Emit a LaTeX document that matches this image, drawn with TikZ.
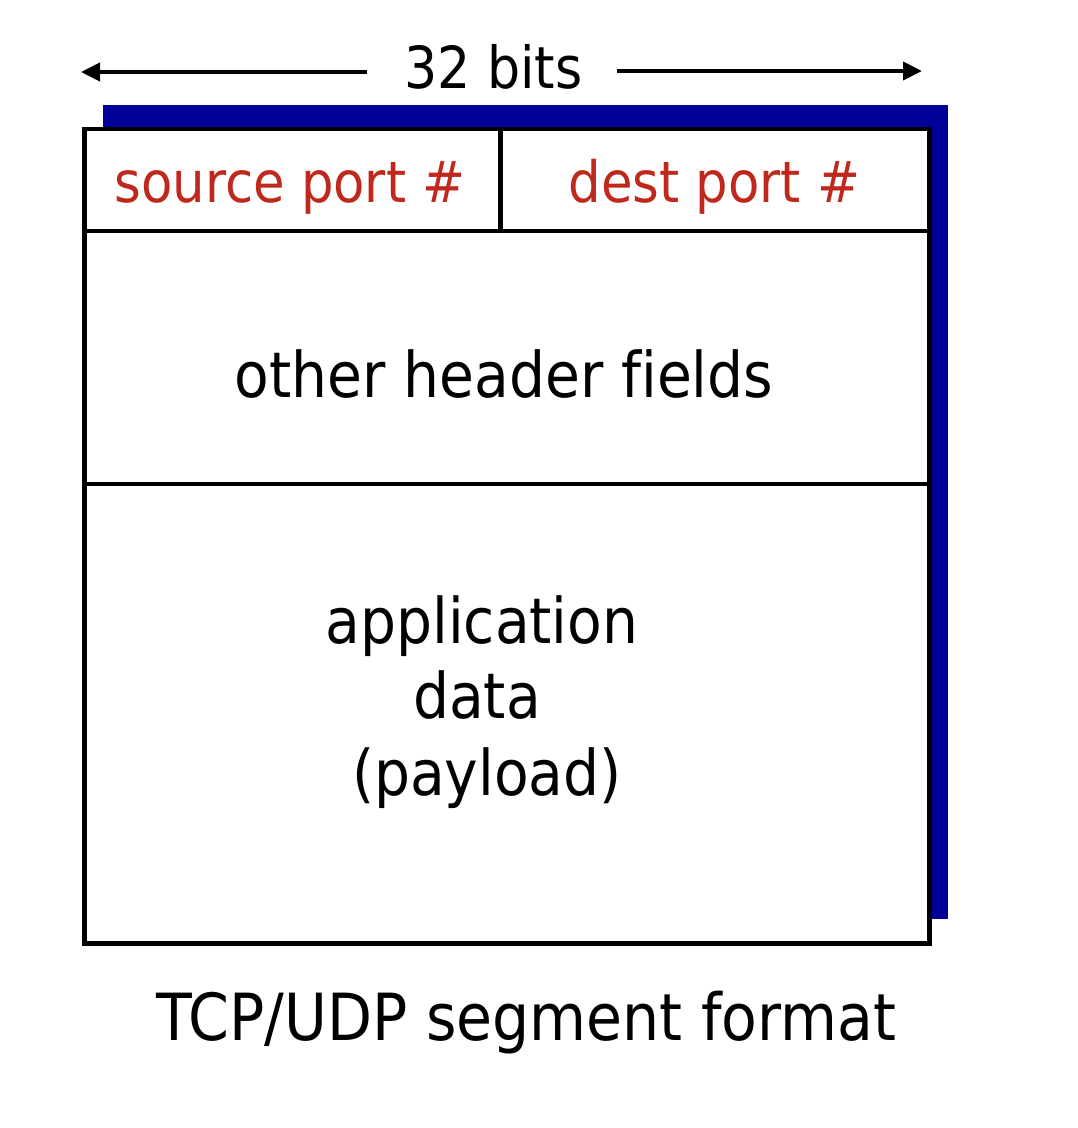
\documentclass[tikz,border=0pt]{standalone}
\usepackage{fontspec}
\setmainfont[Ligatures=NoCommon]{DejaVu Sans Condensed}
\usetikzlibrary{arrows.meta}
\definecolor{portred}{RGB}{192,40,30}
\definecolor{shadowblue}{RGB}{0,0,150}
\tikzset{
  boxline/.style={draw=black, line width=4.5pt},
  dimarrow/.style={draw=black, line width=4pt, -{Triangle[length=19pt,width=18pt]}},
  lbl/.style={inner sep=0pt, anchor=base},
  redlbl/.style={lbl, text=portred, font=\fontsize{57}{68}\selectfont},
  blklbl/.style={lbl, text=black, font=\fontsize{63}{76}\selectfont},
}
\begin{document}
\begin{tikzpicture}[x=1pt,y=-1pt]
\useasboundingbox (0,0) rectangle (1078,1128);
% shadow
\fill[shadowblue] (103,105) rectangle (948,919);
% main box
\fill[white] (84.5,129) rectangle (929.5,943.5);
\draw[boxline] (84.5,129) rectangle (929.5,943.5);
\draw[boxline] (84.5,231) -- (929.5,231);
\draw[boxline] (84.5,484) -- (929.5,484);
\draw[boxline] (500.5,129) -- (500.5,231);
% width label
\node[lbl, font=\fontsize{58}{70}\selectfont] (bits) at (493.5,88) {32 bits};
\coordinate (lend) at (81,72);
\coordinate (rend) at (922,71);
\coordinate (lstart) at (367,72);
\coordinate (rstart) at (617,71);
\draw[dimarrow] (lstart) -- (lend);
\draw[dimarrow] (rstart) -- (rend);
% fields
\node[redlbl] (src) at (290,202) {source port \#};
\node[redlbl] (dst) at (714.5,202) {dest port \#};
\node[blklbl] (other) at (504,397) {other header fields};
\node[blklbl] (app) at (482,643) {application};
\node[blklbl] (data) at (477,718) {data};
\node[blklbl] (pay) at (487,795) {(payload)};
\node[blklbl, font=\fontsize{65}{78}\selectfont] (cap) at (526.5,1040) {TCP/UDP segment format};
\end{tikzpicture}
\end{document}
